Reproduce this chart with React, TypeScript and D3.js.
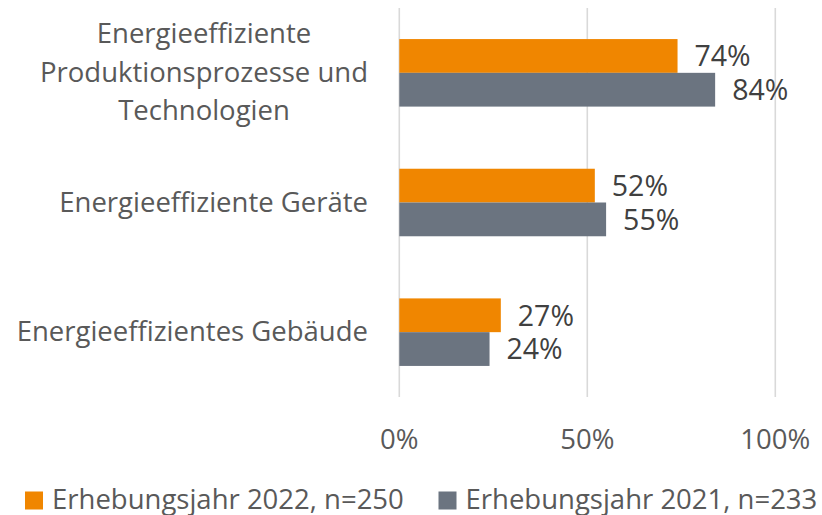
import { useEffect, useRef } from "react";
import * as d3 from "d3";

// Kategorien (mehrzeilige Beschriftung wie im Original)
const categories = [
  "Energieeffiziente Produktionsprozesse und Technologien",
  "Energieeffiziente Geräte",
  "Energieeffizientes Gebäude",
];
const categoryLines = [
  ["Energieeffiziente", "Produktionsprozesse und", "Technologien"],
  ["Energieeffiziente Geräte"],
  ["Energieeffizientes Gebäude"],
];

const seriesNames = ["Erhebungsjahr 2022, n=250", "Erhebungsjahr 2021, n=233"];
const values2022 = [0.74, 0.52, 0.27];
const values2021 = [0.84, 0.55, 0.24];
const seriesColors = ["#F08600", "#6B7480"];
const xTicks = [0, 0.5, 1];

const FONT = "'Open Sans', 'Noto Sans', sans-serif";
const FS = 27.5;

export default function App() {
  const svgRef = useRef<SVGSVGElement>(null);

  useEffect(() => {
    const width = 822, height = 515;
    const svg = d3.select(svgRef.current).attr("width", width).attr("height", height);
    svg.selectAll("*").remove();

    const x = d3.scaleLinear().domain([0, 1]).range([399.3, 775.3]);
    const y = d3.scaleBand().domain(categories).range([8, 397]).padding(0);
    const y1 = d3.scaleBand().domain(seriesNames).range([0, y.bandwidth()]).paddingInner(0).paddingOuter(0.92);
    const fmt = d3.format(".0%");

    // Gitternetzlinien
    svg.append("g")
      .selectAll("line")
      .data(xTicks)
      .enter()
      .append("line")
      .attr("x1", (d) => x(d))
      .attr("x2", (d) => x(d))
      .attr("y1", 8)
      .attr("y2", 397)
      .attr("stroke", "#D9D9D9")
      .attr("stroke-width", 1.6);

    // X-Achse Beschriftung
    svg.append("g")
      .selectAll("text")
      .data(xTicks)
      .enter()
      .append("text")
      .attr("x", (d) => x(d))
      .attr("y", 448.5)
      .attr("text-anchor", "middle")
      .attr("font-family", FONT)
      .attr("font-size", FS)
      .attr("fill", "#595959")
      .text((d) => fmt(d));

    const rows = categories.map((c, i) => ({ cat: c, vals: [values2022[i], values2021[i]] }));

    // Balken
    const groups = svg.append("g")
      .selectAll("g")
      .data(rows)
      .enter()
      .append("g")
      .attr("transform", (d) => `translate(0, ${y(d.cat)})`);

    groups.selectAll("rect")
      .data((d) => d.vals.map((v, k) => ({ v, s: seriesNames[k], k })))
      .enter()
      .append("rect")
      .attr("x", x(0))
      .attr("y", (d) => y1(d.s)!)
      .attr("width", (d) => x(d.v) - x(0))
      .attr("height", y1.bandwidth())
      .attr("fill", (d) => seriesColors[d.k]);

    // Datenbeschriftungen
    groups.selectAll("text")
      .data((d) => d.vals.map((v, k) => ({ v, s: seriesNames[k], k })))
      .enter()
      .append("text")
      .attr("x", (d) => x(d.v) + 17)
      .attr("y", (d) => y1(d.s)! + y1.bandwidth() / 2)
      .attr("dy", "0.36em")
      .attr("font-family", FONT)
      .attr("font-size", 28.5)
      .attr("fill", "#404040")
      .text((d) => fmt(d.v));

    // Kategorien links, Block rechtsbündig, Zeilen zentriert
    const labelRight = 368;
    const lineH = 38.5;
    categoryLines.forEach((lines, i) => {
      const cy = y(categories[i])! + y.bandwidth() / 2;
      const t = svg.append("text")
        .attr("font-family", FONT)
        .attr("font-size", FS)
        .attr("fill", "#595959")
        .attr("text-anchor", "middle");
      const spans = lines.map((ln, j) =>
        t.append("tspan")
          .attr("y", cy + (j - (lines.length - 1) / 2) * lineH)
          .attr("dy", "0.33em")
          .text(ln)
      );
      const maxW = d3.max(spans, (s) => (s.node() as SVGTSpanElement).getComputedTextLength()) || 0;
      spans.forEach((s) => s.attr("x", labelRight - maxW / 2));
    });

    // Legende
    const legendX = [25, 438.5];
    const legend = svg.append("g")
      .selectAll("g")
      .data(seriesNames)
      .enter()
      .append("g")
      .attr("transform", (d, i) => `translate(${legendX[i]}, 0)`);
    legend.append("rect")
      .attr("x", 0)
      .attr("y", 491.5)
      .attr("width", 18)
      .attr("height", 18)
      .attr("fill", (d, i) => seriesColors[i]);
    legend.append("text")
      .attr("x", 27)
      .attr("y", 508.5)
      .attr("font-family", FONT)
      .attr("font-size", FS)
      .attr("fill", "#595959")
      .text((d) => d);
  }, []);

  return <svg ref={svgRef} style={{ position: "absolute", left: 0, top: 0 }}></svg>;
}
